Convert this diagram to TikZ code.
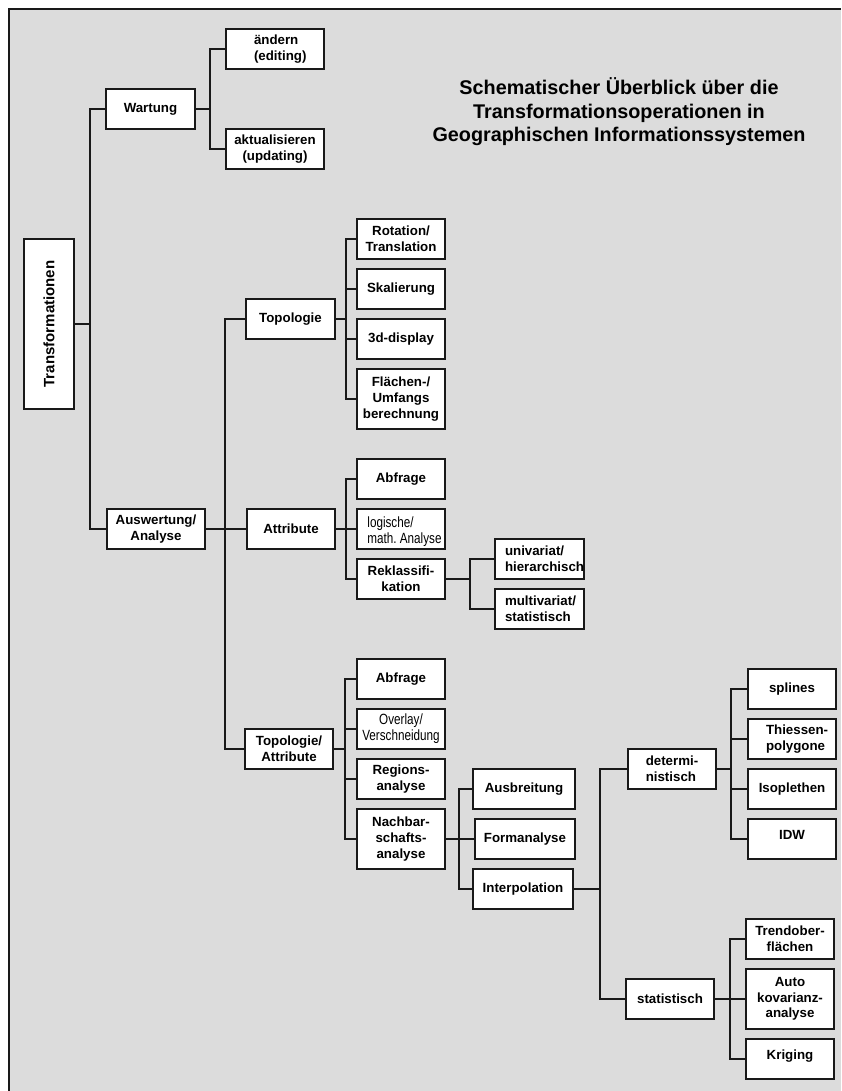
\documentclass[tikz,border=0pt]{standalone}
\usepackage{fontspec}
\setmainfont{Liberation Sans}
\newfontfamily\narrowfont[FakeStretch=0.79]{Liberation Sans}
\frenchspacing
\definecolor{bggray}{RGB}{220,220,220}
\definecolor{linecol}{RGB}{25,25,25}
\tikzset{
  bx/.style={draw=linecol, fill=white, line width=1.5pt, inner sep=0pt, align=center,
    font=\bfseries\fontsize{13.3}{15.7}\selectfont, minimum width=88pt, minimum height=40pt},
  narrowbx/.style={font=\narrowfont\fontsize{14.8}{15.9}\selectfont},
  narrowtxt/.style={inner sep=0pt, align=left, font=\narrowfont\fontsize{14.8}{15.9}\selectfont},
  conn/.style={draw=linecol, line width=1.3pt},
  thk/.style={draw=linecol, line width=2.2pt},
  titletext/.style={inner sep=0pt, align=center, font=\bfseries\fontsize{19.8}{23.5}\selectfont}
}
\begin{document}
\begin{tikzpicture}[x=1pt,y=-1pt]
\useasboundingbox (0,0) rectangle (841,1091);
\fill[bggray] (9,9) rectangle (841,1091);
\draw[draw=linecol, line width=1.5pt] (9,1091) -- (9,9) -- (841,9);

\node[titletext] (title) at (619,112) {Schematischer Überblick über die\\Transformationsoperationen in\\Geographischen Informationssystemen};

% boxes
\node[bx, rotate=90, minimum width=170pt, minimum height=50pt, font=\bfseries\fontsize{15}{18}\selectfont] (trans) at (49,324) {Transformationen};
\node[bx, minimum width=89pt] (wart) at (150.5,109) {Wartung};
\node[bx, minimum width=98pt, align=left, text width=42pt, inner xsep=28pt] (aend) at (275,49) {\mbox{ändern}\\\mbox{(editing)}};
\node[bx, minimum width=98pt] (akt) at (275,149) {aktualisieren\\(updating)};
\node[bx, minimum width=98pt] (ausw) at (156,529) {Auswertung/\\Analyse};

\node[bx, minimum width=89pt] (topo) at (290.5,319) {Topologie};
\node[bx] (rot) at (401,239) {Rotation/\\Translation};
\node[bx] (skal) at (401,289) {Skalierung};
\node[bx] (d3) at (401,339) {3d-display};
\node[bx, minimum height=60pt] (flae) at (401,399) {Flächen-/\\Umfangs\\berechnung};

\node[bx] (attr) at (291,529) {Attribute};
\node[bx] (abf1) at (401,479) {Abfrage};
\node[bx] (logi) at (401,529) {};
\node[narrowtxt, anchor=north west] (logit) at ([xshift=11pt,yshift=-8pt]logi.north west) {logische/\\math. Analyse};
\node[bx] (rekl) at (401,579) {Reklassifi-\\kation};
\node[bx, align=left, text width=69pt, inner xsep=10pt] (univ) at (539.5,559) {\mbox{univariat/}\\\mbox{hierarchisch}};
\node[bx, align=left, text width=69pt, inner xsep=10pt] (multi) at (539.5,609) {\mbox{multivariat/}\\\mbox{statistisch}};

\node[bx] (toat) at (289,749) {Topologie/\\Attribute};
\node[bx] (abf2) at (401,679) {Abfrage};
\node[bx, narrowbx] (over) at (401,729) {Overlay/\\Verschneidung};
\node[bx] (regi) at (401,779) {Regions-\\analyse};
\node[bx, minimum height=60pt] (nach) at (401,839) {Nachbar-\\schafts-\\analyse};

\node[bx, minimum width=102pt] (ausb) at (524,789) {Ausbreitung};
\node[bx, minimum width=100pt] (form) at (525,839) {Formanalyse};
\node[bx, minimum width=100pt] (interp) at (523,889) {Interpolation};

\node[bx, align=left] (det) at (672,769) {determi-\\nistisch};
\node[bx] (stat) at (670,999) {statistisch};

\node[bx] (spl) at (792,689) {splines};
\node[bx, align=left, text width=52pt, inner xsep=18pt] (thi) at (792,739) {\mbox{Thiessen-}\\\mbox{polygone}};
\node[bx] (iso) at (792,789) {Isoplethen};
\node[bx] (idw) at (792,839) {\raisebox{8pt}{IDW}};

\node[bx] (trend) at (790,939) {Trendober-\\flächen};
\node[bx, minimum height=60pt] (auto) at (790,999) {Auto\\kovarianz-\\analyse};
\node[bx] (krig) at (790,1059) {\raisebox{8pt}{Kriging}};

% bus points
\coordinate (tb) at (90,324);
\coordinate (wb) at (210,109);
\coordinate (ab) at (225,529);
\coordinate (topb) at (346,319);
\coordinate (attb) at (346,529);
\coordinate (rkb) at (470,579);
\coordinate (tab) at (345,749);
\coordinate (nb) at (459,839);
\coordinate (ib) at (600,889);
\coordinate (db) at (731,769);
\coordinate (sb) at (730,999);

% connectors
\draw[conn] (trans.south) -- (tb);
\draw[conn] (wart.west) -| (tb);
\draw[conn] (ausw.west) -| (tb);

\draw[conn] (wart.east) -- (wb);
\draw[conn] (aend.west) -| (wb);
\draw[conn] (akt.west) -| (wb);

\draw[thk] (ausw.east) -- (ab);
\draw[conn] (topo.west) -| (ab);
\draw[conn] (attr.west) -- (ab);
\draw[conn] (toat.west) -| (ab);

\draw[thk] (topo.east) -- (topb);
\draw[conn] (rot.west) -| (topb);
\draw[conn] (skal.west) -| (topb);
\draw[conn] (d3.west) -| (topb);
\draw[conn] (flae.west) -| (topb);

\draw[thk] (attr.east) -- (attb);
\draw[conn] (abf1.west) -| (attb);
\draw[conn] (logi.west) -- (attb);
\draw[conn] (rekl.west) -| (attb);

\draw[thk] (rekl.east) -- (rkb);
\draw[conn] (univ.west) -| (rkb);
\draw[conn] (multi.west) -| (rkb);

\draw[thk] (toat.east) -- (tab);
\draw[conn] (abf2.west) -| (tab);
\draw[conn] (over.west) -| (tab);
\draw[conn] (regi.west) -| (tab);
\draw[conn] (nach.west) -| (tab);

\draw[thk] (nach.east) -- (nb);
\draw[conn] (ausb.west) -| (nb);
\draw[conn] (form.west) -- (nb);
\draw[conn] (interp.west) -| (nb);

\draw[conn] (interp.east) -- (ib);
\draw[conn] (det.west) -| (ib);
\draw[conn] (stat.west) -| (ib);

\draw[thk] (det.east) -- (db);
\draw[conn] (spl.west) -| (db);
\draw[conn] (thi.west) -| (db);
\draw[conn] (iso.west) -| (db);
\draw[conn] (idw.west) -| (db);

\draw[thk] (stat.east) -- (sb);
\draw[conn] (trend.west) -| (sb);
\draw[conn] (auto.west) -- (sb);
\draw[conn] (krig.west) -| (sb);
\end{tikzpicture}
\end{document}
